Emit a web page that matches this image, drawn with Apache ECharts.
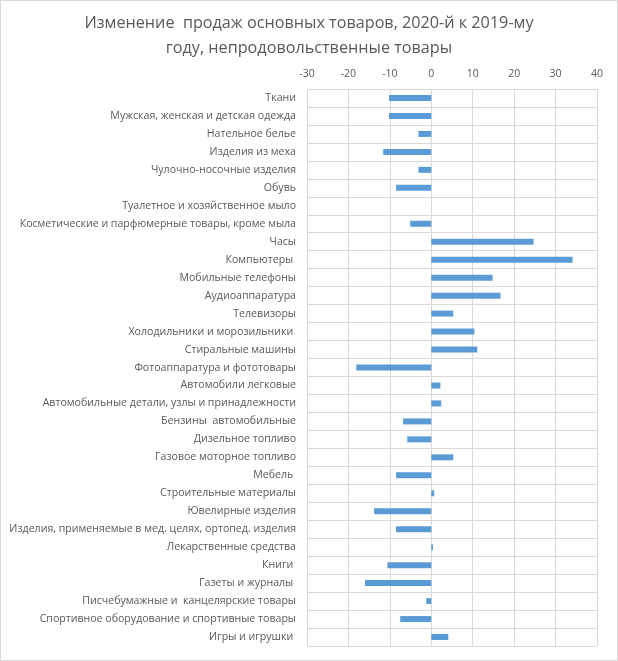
<!DOCTYPE html>
<html>
<head>
<meta charset="utf-8">
<script src="https://cdn.jsdelivr.net/npm/echarts@6/dist/echarts.min.js"></script>
<style>
html,body{margin:0;padding:0;background:#fff;}
#wrap{position:absolute;left:0;top:0;width:616px;height:659px;border:1px solid #D9D9D9;}
#c{width:616px;height:659px;}
</style>
</head>
<body>
<div id="wrap"><div id="c"></div></div>
<script>
const titleText = 'Изменение  продаж основных товаров, 2020-й к 2019-му\nгоду, непродовольственные товары';
const categories = [
  'Ткани',
  'Мужская, женская и детская одежда',
  'Нательное белье',
  'Изделия из меха',
  'Чулочно-носочные изделия',
  'Обувь',
  'Туалетное и хозяйственное мыло',
  'Косметические и парфюмерные товары, кроме мыла',
  'Часы',
  'Компьютеры ',
  'Мобильные телефоны',
  'Аудиоаппаратура',
  'Телевизоры',
  'Холодильники и морозильники ',
  'Стиральные машины',
  'Фотоаппаратура и фототовары',
  'Автомобили легковые',
  'Автомобильные детали, узлы и принадлежности',
  'Бензины  автомобильные',
  'Дизельное топливо',
  'Газовое моторное топливо',
  'Мебель ',
  'Строительные материалы',
  'Ювелирные изделия',
  'Изделия, применяемые в мед. целях, ортопед. изделия',
  'Лекарственные средства',
  'Книги ',
  'Газеты и журналы ',
  'Писчебумажные и  канцелярские товары',
  'Спортивное оборудование и спортивные товары',
  'Игры и игрушки '
];
const values = [
  -10.2, -10.2, -3.1, -11.6, -3.1, -8.5, 0, -5.1,
  24.7, 34.1, 14.8, 16.7, 5.3, 10.4, 11.1, -18.1,
  2.2, 2.4, -6.8, -5.8, 5.3, -8.5, 0.7, -13.8, -8.5,
  0.4, -10.6, -16.0, -1.2, -7.5, 4.1
];
const xMin = -30, xMax = 40, xStep = 10;

const chart = echarts.init(document.getElementById('c'), null, {renderer:'canvas'});
const font = '"Open Sans", "Noto Sans", sans-serif';
chart.setOption({
  animation:false,
  title:{
    text:titleText, left:'center', top:5,
    textStyle:{fontFamily:font, fontSize:16.2, fontWeight:'normal', color:'#595959', lineHeight:25}
  },
  grid:{left:306, right:20, top:88, bottom:14, containLabel:false},
  xAxis:{
    type:'value', position:'top', min:xMin, max:xMax, interval:xStep,
    axisLine:{show:false}, axisTick:{show:false},
    axisLabel:{fontFamily:font, fontSize:10.5, color:'#595959', margin:9},
    splitLine:{show:true, lineStyle:{color:'#D9D9D9', width:1}}
  },
  yAxis:{
    type:'category', data:categories, inverse:true,
    axisLine:{show:false}, axisTick:{show:false},
    axisLabel:{fontFamily:font, fontSize:10.6, color:'#595959', margin:11, interval:0},
    splitLine:{show:true, interval:0, lineStyle:{color:'#D9D9D9', width:1}}
  },
  series:[{
    type:'bar', data:values, barWidth:6,
    itemStyle:{color:'#5B9BD5'}
  }]
});
</script>
</body>
</html>
